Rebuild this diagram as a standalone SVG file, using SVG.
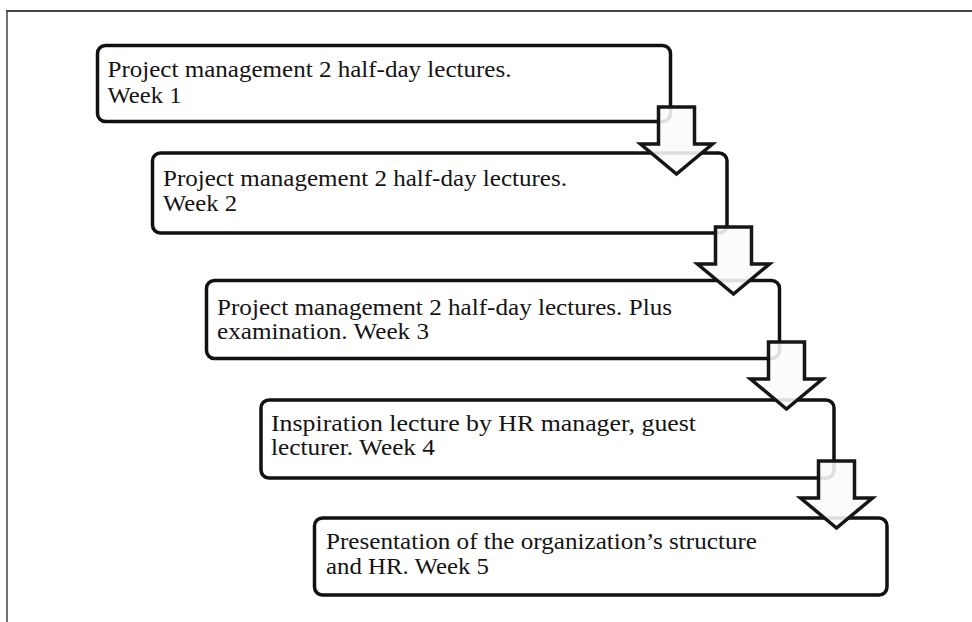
<svg xmlns="http://www.w3.org/2000/svg" width="972" height="622" viewBox="0 0 972 622">
<style>
.box{fill:#ffffff;stroke:#111111;stroke-width:3.5}
.arrow{fill:#fafafa;fill-opacity:0.88;stroke:#161616;stroke-width:3.5;stroke-linejoin:miter}
.t{font-family:"Liberation Serif","Times New Roman",serif;font-size:23px;fill:#141414}
.frame{stroke:#444444;fill:none}
</style>
<defs>
<path id="arr" d="M-18,0 H18 V37 H36 L0,67 L-36,37 H-18 Z"/>
</defs>
<rect width="972" height="622" fill="#ffffff"/>
<line class="frame" x1="6" y1="11" x2="972" y2="11" stroke-width="2"/>
<line class="frame" x1="7" y1="11" x2="7" y2="622" stroke-width="1.5"/>
<g id="node1">
<rect class="box" x="97.5" y="45.5" width="573" height="76" rx="8"/>
<text class="t" x="107.5" y="77" textLength="404" lengthAdjust="spacingAndGlyphs">Project management 2 half-day lectures.</text>
<text class="t" x="107.5" y="103" textLength="74" lengthAdjust="spacingAndGlyphs">Week 1</text>
</g>
<g id="node2">
<rect class="box" x="152.5" y="153" width="574.5" height="80" rx="8"/>
<text class="t" x="163" y="186" textLength="404" lengthAdjust="spacingAndGlyphs">Project management 2 half-day lectures.</text>
<text class="t" x="163" y="211" textLength="74" lengthAdjust="spacingAndGlyphs">Week 2</text>
</g>
<g id="node3">
<rect class="box" x="206.5" y="280.5" width="573" height="78" rx="8"/>
<text class="t" x="217" y="315" textLength="455" lengthAdjust="spacingAndGlyphs">Project management 2 half-day lectures. Plus</text>
<text class="t" x="217" y="339" textLength="212" lengthAdjust="spacingAndGlyphs">examination. Week 3</text>
</g>
<g id="node4">
<rect class="box" x="261" y="400" width="573" height="78" rx="8"/>
<text class="t" x="271" y="431" textLength="425" lengthAdjust="spacingAndGlyphs">Inspiration lecture by HR manager, guest</text>
<text class="t" x="271" y="455" textLength="164" lengthAdjust="spacingAndGlyphs">lecturer. Week 4</text>
</g>
<g id="node5">
<rect class="box" x="314.5" y="518" width="572.5" height="77" rx="8"/>
<text class="t" x="326" y="549" textLength="431" lengthAdjust="spacingAndGlyphs">Presentation of the organization’s structure</text>
<text class="t" x="326" y="574" textLength="163" lengthAdjust="spacingAndGlyphs">and HR. Week 5</text>
</g>
<g id="connectors">
<use href="#arr" class="arrow" transform="translate(676.5,107)"/>
<use href="#arr" class="arrow" transform="translate(733.5,227)"/>
<use href="#arr" class="arrow" transform="translate(786.5,342)"/>
<use href="#arr" class="arrow" transform="translate(836.5,461)"/>
</g>
</svg>
